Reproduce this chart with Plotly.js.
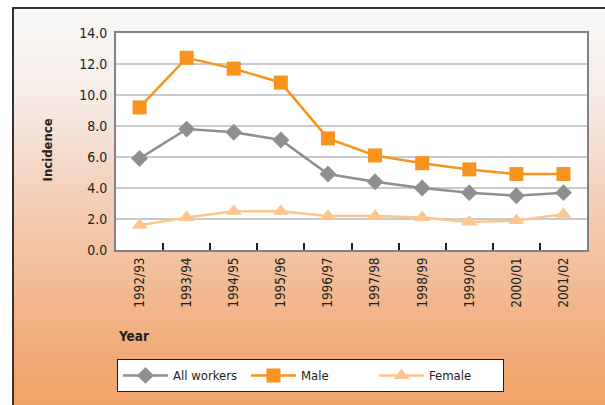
<!DOCTYPE html>
<html>
<head>
<meta charset="utf-8">
<script src="https://cdn.plot.ly/plotly-3.0.1.min.js"></script>
<style>
  body { margin: 0; background: #fff; }
  #frame {
    position: absolute; left: 12px; top: 7px; width: 593px; height: 398px;
    border-left: 2px solid #333; border-top: 2px solid #333;
    background: linear-gradient(#f9f9f8 0%, #f6ece6 22%, #f4d2bd 45%, #f3bf9c 65%, #f1ac7a 85%, #f0a468 100%);
  }
  #chart { position: absolute; left: 0; top: 0; width: 605px; height: 405px; }
</style>
</head>
<body>
<div id="frame"></div>
<div id="chart"></div>
<script>
const years = ["1992/93", "1993/94", "1994/95", "1995/96", "1996/97",
               "1997/98", "1998/99", "1999/00", "2000/01", "2001/02"];
const allWorkers = [5.9, 7.8, 7.6, 7.1, 4.9, 4.4, 4.0, 3.7, 3.5, 3.7];
const male = [9.2, 12.4, 11.7, 10.8, 7.2, 6.1, 5.6, 5.2, 4.9, 4.9];
const female = [1.6, 2.1, 2.5, 2.5, 2.2, 2.2, 2.1, 1.8, 1.9, 2.3];

const font = "DejaVu Sans Condensed, Arial Narrow, sans-serif";

const traces = [
    {
        x: years, y: allWorkers, name: "All workers",
        type: "scatter", mode: "lines+markers",
        line: { color: "#8e8f92", width: 2.5 },
        marker: { symbol: "diamond", size: 13, color: "#8e8f92" }
    },
    {
        x: years, y: male, name: "Male",
        type: "scatter", mode: "lines+markers",
        line: { color: "#f7941d", width: 2.5 },
        marker: { symbol: "square", size: 14, color: "#f7941d" }
    },
    {
        x: years, y: female, name: "Female",
        type: "scatter", mode: "lines+markers",
        line: { color: "#fdc68c", width: 2.5 },
        marker: { symbol: "triangle-up", size: 14, color: "#fdc68c" }
    }
];

Plotly.newPlot("chart", traces, {
    width: 605, height: 405,
    margin: { l: 116, r: 18, t: 33, b: 155 },
    paper_bgcolor: "rgba(0,0,0,0)",
    plot_bgcolor: "#ffffff",
    font: { family: font, size: 12, color: "#231f20" },
    xaxis: {
        type: "category",
        automargin: false,
        range: [-0.5, years.length - 0.5],
        tickangle: -90,
        ticks: "inside", ticklen: 7, tickwidth: 1.5, tickcolor: "#231f20",
        tickson: "boundaries",
        showgrid: false,
        showline: true, linecolor: "#808285", linewidth: 2, mirror: true,
        tickfont: { family: font, size: 13.5 }
    },
    yaxis: {
        automargin: false,
        range: [0, 14], dtick: 2, tickformat: ".1f",
        showgrid: true, gridcolor: "#c9cacc", gridwidth: 1.5,
        zeroline: false,
        showline: true, linecolor: "#808285", linewidth: 2, mirror: true,
        ticks: "", ticklabelstandoff: 4,
        tickfont: { family: font, size: 14 }
    },
    annotations: [
        {
            text: "<b>Incidence</b>", xref: "paper", yref: "paper",
            x: -0.146, y: 0.46, xanchor: "center", yanchor: "middle",
            textangle: -90, showarrow: false,
            font: { family: font, size: 13 }
        },
        {
            text: "<b>Year</b>", xref: "paper", yref: "paper",
            x: 0, y: -0.396, xanchor: "left", yanchor: "middle", showarrow: false,
            font: { family: font, size: 13.5 }
        }
    ],
    showlegend: true,
    legend: {
        orientation: "h",
        xref: "container", yref: "container",
        x: 0.193, xanchor: "left",
        y: 0.113, yanchor: "top",
        bgcolor: "#ffffff", bordercolor: "#231f20", borderwidth: 1.2,
        itemwidth: 45,
        entrywidth: 68,
        font: { family: font, size: 13 }
    }
}, { displayModeBar: false });
</script>
</body>
</html>
